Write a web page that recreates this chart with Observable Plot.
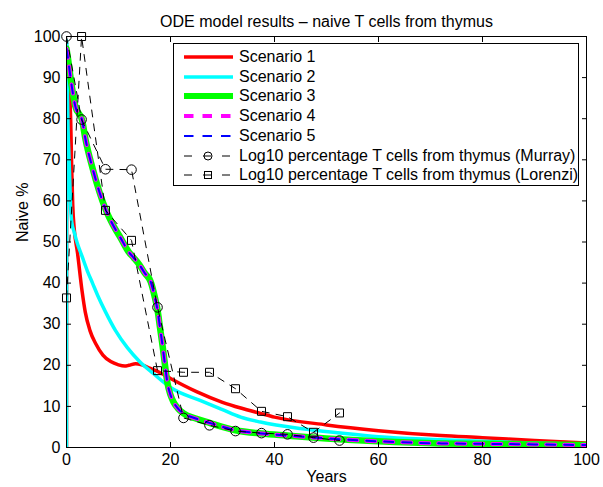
<!DOCTYPE html>
<html>
<head>
<meta charset="utf-8">
<script src="https://cdn.jsdelivr.net/npm/d3@7"></script>
<script src="https://cdn.jsdelivr.net/npm/@observablehq/plot@0.6"></script>
<style>
  body { margin: 0; background: #fff; }
  #wrap { position: relative; width: 603px; height: 487px; font-family: "Liberation Sans", Arial, sans-serif; }
  #legend { position: absolute; left: 173px; top: 43px; width: 406px; height: 143px; border: 1px solid #000; background: #fff; box-sizing: border-box; }
  .row { position: absolute; left: 0; height: 20px; display: flex; align-items: center; font-size: 16px; white-space: nowrap; }
  .row svg { flex: none; }
</style>
</head>
<body>
<div id="wrap"></div>
<script>
// ---------- data ----------
const chartTitle = "ODE model results – naive T cells from thymus";
const xLabel = "Years";
const yLabel = "Naive %";
const xTicks = [0, 20, 40, 60, 80, 100];
const yTicks = [0, 10, 20, 30, 40, 50, 60, 70, 80, 90, 100];
const seriesNames = ["Scenario 1", "Scenario 2", "Scenario 3", "Scenario 4", "Scenario 5",
  "Log10 percentage T cells from thymus (Murray)", "Log10 percentage T cells from thymus (Lorenzi)"];

const s1Years = [0, 0.05, 0.4, 0.8, 1.0, 1.2, 1.5, 2.1, 3, 3.6, 4.5, 5.6, 7, 8.5, 10, 11.2, 12, 13.3, 14.5, 16, 18, 20, 25, 30, 33.5, 37.3, 40, 50, 60, 72, 80, 90, 100];
const s1Naive = [0, 98, 92, 80, 68, 59, 53, 47.5, 38, 33, 28.5, 25.3, 22.5, 20.9, 20.1, 19.8, 20.0, 20.4, 20.1, 19.3, 18.2, 16.8, 13.6, 11, 9.6, 8.3, 7.4, 5.5, 4.1, 2.9, 2.4, 1.7, 1.1];

const s2Years = [0, 0.03, 0.2, 0.3, 0.45, 0.6, 0.77, 1.0, 1.5, 2, 3, 4, 5, 6, 7.5, 9.4, 11.7, 14, 16.7, 20, 25.8, 30, 33.5, 37.3, 45, 52.7, 60, 72, 80, 90, 100];
const s2Naive = [0, 99, 85, 77, 72, 66, 59, 55, 52.3, 50, 46.5, 43, 40, 37, 33, 28.5, 24.3, 21, 18, 14.6, 11.4, 9.2, 7.4, 6.2, 4.6, 3.5, 2.6, 1.9, 1.5, 1.1, 0.8];

const s3Years = [0, 0.3, 1, 1.7, 3, 3.65, 5, 7.5, 9, 10.4, 12, 12.9, 14, 15, 16.2, 17, 17.5, 18, 18.5, 19, 19.4, 20, 20.6, 21.5, 22.5, 25, 27.5, 32.5, 37.5, 42.5, 50, 60, 72, 80, 90, 100];
const s3Naive = [97, 94.5, 88, 83, 79.6, 75, 68, 58, 54, 51, 47.5, 46.2, 44.5, 42.5, 40.3, 36.5, 33.5, 29, 24.5, 19.5, 15.8, 12.8, 11, 9.4, 8.3, 7, 6, 4.2, 3.4, 2.9, 2.2, 1.5, 1.0, 0.9, 0.75, 0.6];
const s4Years = [0, 0.3, 1, 1.7, 3, 3.65, 5, 7.5, 9, 10.4, 12, 12.9, 14, 15, 16.2, 17, 17.5, 18, 18.5, 19, 19.4, 20, 20.6, 21.5, 22.5, 25, 27.5, 32.5, 37.5, 42.5, 50, 60, 72, 80, 90, 100];
const s4Naive = [97, 94.5, 88, 83, 79.6, 75, 68, 58, 54, 51, 47.5, 46.2, 44.5, 42.5, 40.3, 36.5, 33.5, 29, 24.5, 19.5, 15.8, 12.8, 11, 9.4, 8.3, 7, 6, 4.2, 3.4, 2.9, 2.2, 1.5, 1.0, 0.9, 0.75, 0.6];
const s5Years = [0, 0.3, 1, 1.7, 3, 3.65, 5, 7.5, 9, 10.4, 12, 12.9, 14, 15, 16.2, 17, 17.5, 18, 18.5, 19, 19.4, 20, 20.6, 21.5, 22.5, 25, 27.5, 32.5, 37.5, 42.5, 50, 60, 72, 80, 90, 100];
const s5Naive = [97, 94.5, 88, 83, 79.6, 75, 68, 58, 54, 51, 47.5, 46.2, 44.5, 42.5, 40.3, 36.5, 33.5, 29, 24.5, 19.5, 15.8, 12.8, 11, 9.4, 8.3, 7, 6, 4.2, 3.4, 2.9, 2.2, 1.5, 1.0, 0.9, 0.75, 0.6];

const murrayYears = [0, 2.9, 7.5, 12.5, 17.5, 22.5, 27.5, 32.5, 37.5, 42.5, 47.5, 52.5];
const murrayNaive = [100, 79.8, 67.7, 67.6, 34.1, 7.2, 5.4, 4.0, 3.5, 3.2, 2.4, 1.7];
const lorenziYears = [0, 2.9, 7.5, 12.5, 17.5, 22.5, 27.5, 32.5, 37.5, 42.5, 47.5, 52.5];
const lorenziNaive = [36.4, 100, 57.7, 50.4, 18.7, 18.3, 18.3, 14.3, 8.8, 7.5, 3.7, 8.4];

// ---------- build tables ----------
const zip = (xs, ys) => xs.map((x, i) => ({x, y: ys[i]}));
const s1 = zip(s1Years, s1Naive), s2 = zip(s2Years, s2Naive), s3 = zip(s3Years, s3Naive),
      s4 = zip(s4Years, s4Naive), s5 = zip(s5Years, s5Naive);
const murray = zip(murrayYears, murrayNaive), lorenzi = zip(lorenziYears, lorenziNaive);

const FONT = "Liberation Sans, Arial, sans-serif";
const curve = "monotone-x";

const plot = Plot.plot({
  width: 603,
  height: 487,
  marginLeft: 66,
  marginRight: 17,
  marginTop: 36,
  marginBottom: 40,
  style: {fontFamily: FONT, fontSize: "16px", background: "white", color: "black", overflow: "visible"},
  x: {domain: [0, 100], label: null},
  y: {domain: [0, 100], label: null},
  marks: [
    Plot.line(s1, {x: "x", y: "y", stroke: "#ff0000", strokeWidth: 3.5, curve, clip: true}),
    Plot.line(s2, {x: "x", y: "y", stroke: "#00ffff", strokeWidth: 3.5, curve, clip: true}),
    Plot.line(s3, {x: "x", y: "y", stroke: "#00ff00", strokeWidth: 6.5, curve, clip: true}),
    Plot.line(s4, {x: "x", y: "y", stroke: "#ff00ff", strokeWidth: 4, strokeDasharray: "9,9", curve, clip: true}),
    Plot.line(s5, {x: "x", y: "y", stroke: "#0000ff", strokeWidth: 2, strokeDasharray: "9,9", curve, clip: true}),
    Plot.line(murray, {x: "x", y: "y", stroke: "black", strokeWidth: 1, strokeDasharray: "7,7"}),
    Plot.dot(murray, {x: "x", y: "y", r: 4.8, stroke: "black", strokeWidth: 1, fill: "none"}),
    Plot.line(lorenzi, {x: "x", y: "y", stroke: "black", strokeWidth: 1, strokeDasharray: "7,7"}),
    Plot.dot(lorenzi, {x: "x", y: "y", r: 4.5, symbol: "square", stroke: "black", strokeWidth: 1, fill: "none"}),
    Plot.frame({stroke: "black", strokeWidth: 1}),
    Plot.axisX({anchor: "bottom", ticks: xTicks, tickSize: -5, tickPadding: 11, label: null}),
    Plot.axisX({anchor: "top", ticks: xTicks, tickSize: -5, tickFormat: () => "", label: null}),
    Plot.axisY({anchor: "left", ticks: yTicks, tickSize: -5, tickPadding: 11, label: null}),
    Plot.axisY({anchor: "right", ticks: yTicks, tickSize: -5, tickFormat: () => "", label: null}),
    Plot.text([chartTitle], {frameAnchor: "top", dy: -21, fontSize: 16, fill: "black"}),
    Plot.text([xLabel], {frameAnchor: "bottom", dy: 34, fontSize: 16, fill: "black"}),
    Plot.text([yLabel], {frameAnchor: "left", dx: -44, rotate: -90, fontSize: 16, fill: "black"})
  ]
});

const wrap = document.getElementById("wrap");
wrap.appendChild(plot);

// ---------- legend ----------
const legendStyles = [
  {stroke: "#ff0000", w: 3.5, dash: null},
  {stroke: "#00ffff", w: 3.5, dash: null},
  {stroke: "#00ff00", w: 6, dash: null},
  {stroke: "#ff00ff", w: 4, dash: "9.5,9"},
  {stroke: "#0000ff", w: 2, dash: "9.5,9"},
  {stroke: "black", w: 1, dash: "8,11", marker: "circle"},
  {stroke: "black", w: 1, dash: "8,11", marker: "square"}
];
const legend = document.createElement("div");
legend.id = "legend";
seriesNames.forEach((name, i) => {
  const st = legendStyles[i];
  const row = document.createElement("div");
  row.className = "row";
  row.style.top = (3 + i * 19.7) + "px";
  let marker = "";
  if (st.marker === "circle") marker = `<circle cx="34" cy="10" r="4" fill="none" stroke="black" stroke-width="1"/>`;
  if (st.marker === "square") marker = `<rect x="30.5" y="6.5" width="7" height="7" fill="none" stroke="black" stroke-width="1"/>`;
  row.innerHTML = `<svg width="65" height="20"><line x1="10" x2="59" y1="10" y2="10" stroke="${st.stroke}" stroke-width="${st.w}" ${st.dash ? `stroke-dasharray="${st.dash}"` : ""}/>${marker}</svg><span>${name}</span>`;
  legend.appendChild(row);
});
wrap.appendChild(legend);
</script>
</body>
</html>
